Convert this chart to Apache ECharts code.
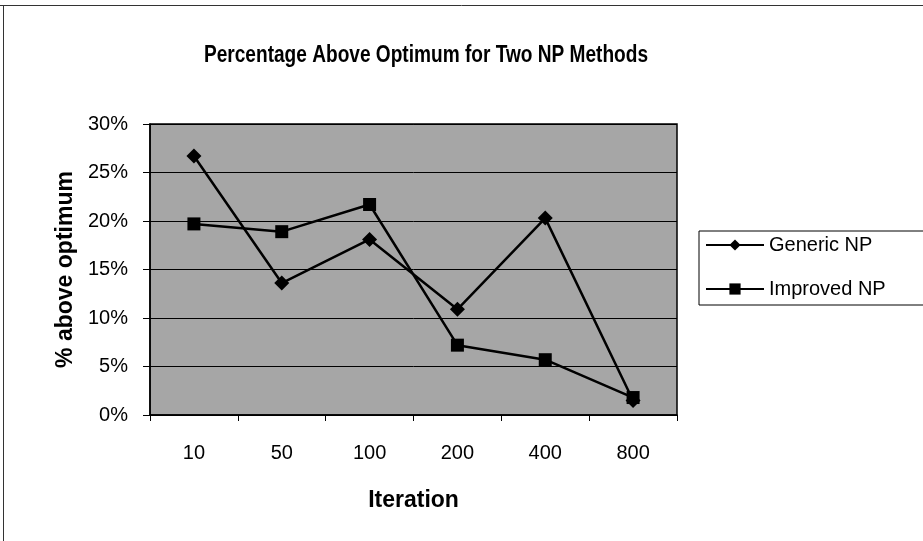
<!DOCTYPE html>
<html>
<head>
<meta charset="utf-8">
<script src="https://cdn.jsdelivr.net/npm/echarts@6/dist/echarts.min.js"></script>
<style>
html,body{margin:0;padding:0;background:#fff;}
#chart{width:923px;height:541px;}
</style>
</head>
<body>
<div id="chart"></div>
<script>
const chartTitle = "Percentage Above Optimum for Two NP Methods";
const categories = ["10", "50", "100", "200", "400", "800"];
const genericNP = [0.267, 0.136, 0.181, 0.109, 0.203, 0.015];
const improvedNP = [0.197, 0.189, 0.217, 0.072, 0.057, 0.018];
const yTicks = { min: 0, max: 0.30, interval: 0.05 };
const xAxisTitle = "Iteration";
const yAxisTitle = "% above optimum";

const chart = echarts.init(document.getElementById('chart'), null, {renderer: 'canvas'});
const font = 'Liberation Sans, Arial, sans-serif';
chart.setOption({
  backgroundColor: '#fff',
  animation: false,
  legend: {
    orient: 'vertical',
    left: 699,
    top: 231,
    padding: [4, 40, 6, 6],
    itemGap: 24,
    itemWidth: 58,
    itemHeight: 14,
    borderColor: '#000',
    borderWidth: 1,
    backgroundColor: '#fff',
    textStyle: {fontFamily: font, fontSize: 20, color: '#000'},
    data: ['Generic NP', 'Improved NP']
  },
  grid: {
    left: 150, right: 246, top: 124, bottom: 126,
    show: true, backgroundColor: '#a6a6a6', borderColor: '#000', borderWidth: 1.5
  },
  xAxis: {
    type: 'category',
    data: categories,
    boundaryGap: true,
    name: xAxisTitle,
    nameLocation: 'middle',
    nameGap: 74,
    nameTextStyle: {fontFamily: font, fontWeight: 'bold', fontSize: 23, color: '#000'},
    axisLine: {lineStyle: {color: '#000', width: 1.5}},
    axisTick: {show: true, length: 6, lineStyle: {color: '#000'}},
    axisLabel: {fontFamily: font, fontSize: 20, color: '#000', margin: 28}
  },
  yAxis: {
    type: 'value',
    min: yTicks.min, max: yTicks.max, interval: yTicks.interval,
    name: yAxisTitle,
    nameLocation: 'middle',
    nameGap: 68,
    nameRotate: 90,
    nameTextStyle: {fontFamily: font, fontWeight: 'bold', fontSize: 23, color: '#000'},
    axisLine: {show: true, lineStyle: {color: '#000', width: 1.5}},
    axisTick: {show: true, length: 7, lineStyle: {color: '#000'}},
    splitLine: {show: true, lineStyle: {color: '#000', width: 1}},
    axisLabel: {
      fontFamily: font, fontSize: 20, color: '#000', margin: 22,
      formatter: v => Math.round(v * 100) + '%'
    }
  },
  series: [
    {
      name: 'Generic NP', type: 'line', data: genericNP,
      symbol: 'diamond', symbolSize: 15,
      lineStyle: {color: '#000', width: 2.5},
      itemStyle: {color: '#000'}
    },
    {
      name: 'Improved NP', type: 'line', data: improvedNP,
      symbol: 'rect', symbolSize: 13,
      lineStyle: {color: '#000', width: 2.5},
      itemStyle: {color: '#000'}
    }
  ],
  graphic: [
    {type: 'line', shape: {x1: 0, y1: 5.5, x2: 923, y2: 5.5}, style: {stroke: '#333', lineWidth: 1}},
    {type: 'line', shape: {x1: 3.5, y1: 5, x2: 3.5, y2: 541}, style: {stroke: '#333', lineWidth: 1}},
    {
      type: 'text', x: 426, y: 56, scaleX: 0.83,
      style: {
        text: chartTitle, fill: '#000',
        font: 'bold 23px Liberation Sans, Arial, sans-serif',
        textAlign: 'center', textVerticalAlign: 'middle'
      }
    }
  ]
});
</script>
</body>
</html>
